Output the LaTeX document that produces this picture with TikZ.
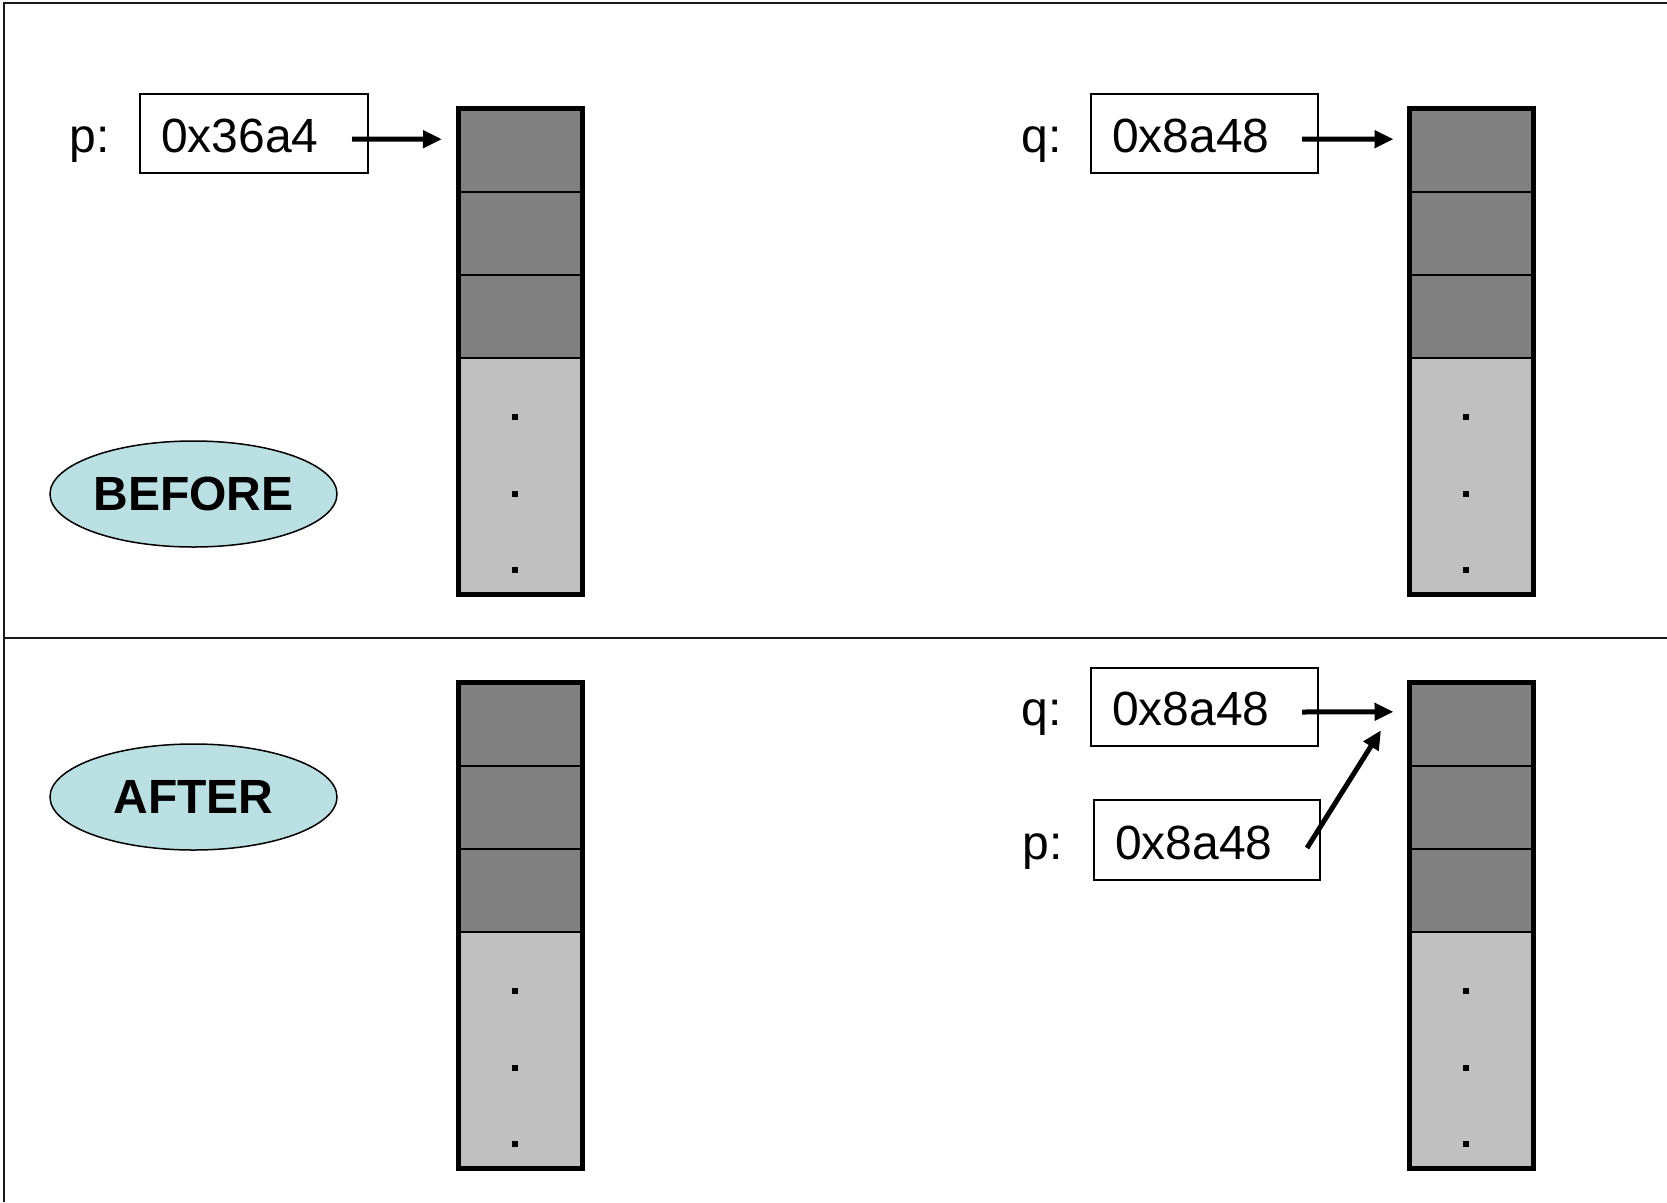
\documentclass[tikz,border=0pt]{standalone}
\usepackage{fontspec}
\setmainfont{Liberation Sans}
\usetikzlibrary{arrows.meta,shapes.geometric,calc}
\definecolor{celldark}{RGB}{128,128,128}
\definecolor{celllight}{RGB}{192,192,192}
\definecolor{tagfill}{RGB}{187,224,227}
\begin{document}
\begin{tikzpicture}[x=1pt,y=-1pt,
  frame/.style={line width=1.5pt, draw=black!90},
  valbox/.style={draw, line width=1.5pt, minimum width=228pt, minimum height=79pt, inner sep=0pt, outer sep=0pt},
  valtxt/.style={inner sep=0pt, outer sep=0pt, font=\fontsize{48}{56}\selectfont},
  tag/.style={ellipse, draw, line width=1.5pt, fill=tagfill, minimum width=287pt, minimum height=106pt, inner sep=0pt, font=\fontsize{48}{56}\selectfont\bfseries},
  cell/.style={draw, line width=2pt, minimum width=124pt, inner sep=0pt, outer sep=0pt},
  usedcell/.style={cell, fill=celldark},
  freecell/.style={cell, fill=celllight, minimum height=236.5pt},
  dotmark/.style={fill=black, minimum size=6pt, inner sep=0pt, outer sep=0pt},
  ptr/.style={line width=5pt, -{Triangle[length=19pt,width=17pt]}},
]
\useasboundingbox (0,0) rectangle (1667,1202);
\fill[white] (0,0) rectangle (1667,1202);

% panel frame: open on the right and at the bottom
\draw[frame] (1667,3) -- (4,3) -- (4,1202);
\draw[frame] (4,638) -- (1667,638);

% memory blocks: three used cells on top of a free region
\foreach \n/\cx/\ty in {a/520.5/108.5, b/1471/108.5, c/520.5/682.5, d/1471/682.5} {
  \node[usedcell, minimum height=83.5pt, anchor=north] (\n1) at (\cx,\ty) {};
  \node[usedcell, minimum height=82.5pt, anchor=north] (\n2) at (\n1.south) {};
  \node[usedcell, minimum height=83.5pt, anchor=north] (\n3) at (\n2.south) {};
  \node[freecell, anchor=north] (\n4) at (\n3.south) {};
  \draw[line width=5pt] (\n1.north west) rectangle (\n4.south east);
  \node[dotmark] (\n d1) at ($(\n4.north)+(-5.5,58.5)$) {};
  \node[dotmark] (\n d2) at ($(\n4.north)+(-5.5,135.5)$) {};
  \node[dotmark] (\n d3) at ($(\n4.north)+(-5.5,212)$) {};
}

% BEFORE panel
\node[tag] (before) at (193.5,494) {BEFORE};

\node[valbox] (pbox) at (254,133.5) {};
\node[valtxt, anchor=base west] (pval) at (161,152) {0x36a4};
\node[valtxt, anchor=base east] (plab) at (110,152) {p:};

\node[valbox, minimum width=227pt] (qbox) at (1204.5,133.5) {};
\node[valtxt, anchor=base west] (qval) at (1112,152) {0x8a48};
\node[valtxt, anchor=base east] (qlab) at (1062,152) {q:};

\draw[ptr] ($(pbox.east)+(-16,5.5)$) -- ($(a1.west)+(-16.5,-11)$);
\draw[ptr] ($(qbox.east)+(-16,5.5)$) -- ($(b1.west)+(-15.5,-11)$);

% AFTER panel
\node[tag] (after) at (193.5,797) {AFTER};

\node[valbox, minimum width=227pt, minimum height=78pt] (qbox2) at (1204.5,707) {};
\node[valtxt, anchor=base west] (qval2) at (1112,725) {0x8a48};
\node[valtxt, anchor=base east] (qlab2) at (1062,725) {q:};

\node[valbox, minimum width=226pt, minimum height=80pt] (pbox2) at (1207,840) {};
\node[valtxt, anchor=base west] (pval2) at (1115,859) {0x8a48};
\node[valtxt, anchor=base east] (plab2) at (1063,859) {p:};

\draw[ptr] ($(qbox2.east)+(-16,5)$) -- ($(d1.west)+(-15.5,-12.5)$);
\draw[ptr] ($(pbox2.east)+(-13,8)$) -- ($(d1.west)+(-28,6)$);
\end{tikzpicture}
\end{document}
